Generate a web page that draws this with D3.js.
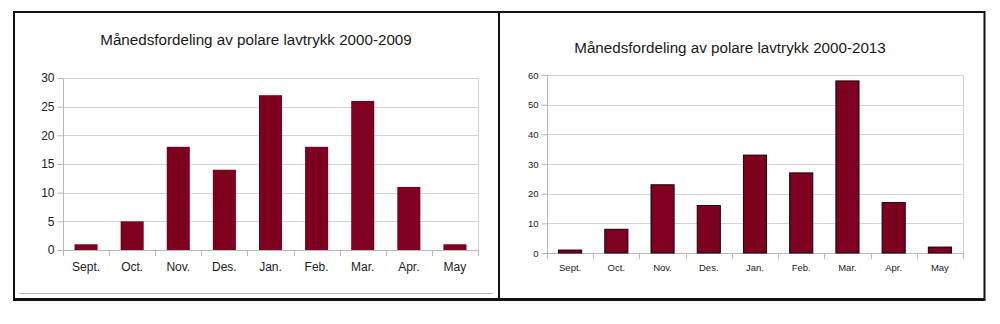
<!DOCTYPE html>
<html>
<head>
<meta charset="utf-8">
<script src="https://cdn.jsdelivr.net/npm/d3@7"></script>
<style>
  html, body { margin: 0; padding: 0; background: #fff; }
  svg { display: block; font-family: "Liberation Sans", Arial, sans-serif; }
</style>
</head>
<body>
<svg id="chart" width="1000" height="324"></svg>
<script>
// Months of the polar-low season
const months = ["Sept.", "Oct.", "Nov.", "Des.", "Jan.", "Feb.", "Mar.", "Apr.", "May"];

// Number of polar lows per month
const counts2000to2009 = [1, 5, 18, 14, 27, 18, 26, 11, 1];
const counts2000to2013 = [1, 8, 23, 16, 33, 27, 58, 17, 2];

// Y-axis ticks for each panel
const ticksLeft = [0, 5, 10, 15, 20, 25, 30];
const ticksRight = [0, 10, 20, 30, 40, 50, 60];

const titleLeft = "Månedsfordeling av polare lavtrykk 2000-2009";
const titleRight = "Månedsfordeling av polare lavtrykk 2000-2013";

const svg = d3.select("#chart");
const barFill = "#7e0021";

function drawPanel(cfg) {
  const g = svg.append("g");

  const x = d3.scaleBand().domain(months).range([cfg.x0, cfg.x1]).paddingInner(0.5).paddingOuter(0.25);
  const y = d3.scaleLinear().domain([0, d3.max(cfg.ticks)]).range([cfg.y0, cfg.y1]);

  // title
  g.append("text")
    .attr("x", cfg.titleX).attr("y", cfg.titleY)
    .attr("text-anchor", "middle")
    .attr("font-size", cfg.titleSize)
    .attr("fill", "#1a1a1a")
    .text(cfg.title);

  // horizontal grid
  g.selectAll(".grid").data(cfg.ticks).join("line")
    .attr("x1", cfg.x0).attr("x2", cfg.x1)
    .attr("y1", d => Math.round(y(d)) + 0.5).attr("y2", d => Math.round(y(d)) + 0.5)
    .attr("stroke", "#d4d4d4").attr("stroke-width", 1);

  // right frame edge of plot area
  g.append("line")
    .attr("x1", cfg.x1 + 0.5).attr("x2", cfg.x1 + 0.5)
    .attr("y1", cfg.y1).attr("y2", cfg.y0 + 6)
    .attr("stroke", "#d4d4d4");

  // y axis
  const yAxis = d3.axisLeft(y).tickValues(cfg.ticks).tickSize(6).tickPadding(3);
  const ya = g.append("g").attr("transform", `translate(${cfg.x0 + 0.5},0)`).call(yAxis);
  ya.select(".domain").attr("stroke", "#b8b8b8").attr("d", `M0,${cfg.y1}V${cfg.y0}`);
  ya.selectAll(".tick line").attr("stroke", "#b8b8b8");
  ya.selectAll(".tick text").attr("font-size", cfg.tickSize).attr("fill", "#222")
    .attr("font-family", "Liberation Sans, Arial, sans-serif");

  // x axis line and category separator ticks
  g.append("line")
    .attr("x1", cfg.x0).attr("x2", cfg.x1)
    .attr("y1", Math.round(cfg.y0) + 0.5).attr("y2", Math.round(cfg.y0) + 0.5)
    .attr("stroke", "#b8b8b8");
  const seps = d3.range(months.length + 1).map(i => cfg.x0 + i * (cfg.x1 - cfg.x0) / months.length);
  g.selectAll(".sep").data(seps).join("line")
    .attr("x1", d => Math.round(d) + 0.5).attr("x2", d => Math.round(d) + 0.5)
    .attr("y1", cfg.y0).attr("y2", cfg.y0 + 6)
    .attr("stroke", "#b8b8b8");

  // category labels
  g.selectAll(".cat").data(months).join("text")
    .attr("x", d => x(d) + x.bandwidth() / 2)
    .attr("y", cfg.labelY)
    .attr("text-anchor", "middle")
    .attr("font-size", cfg.tickSize)
    .attr("fill", "#222")
    .text(d => d);

  // bars
  g.selectAll(".bar").data(cfg.values).join("rect")
    .attr("x", (d, i) => x(months[i]))
    .attr("width", x.bandwidth())
    .attr("y", d => y(d))
    .attr("height", d => y(0) - y(d))
    .attr("fill", barFill)
    .attr("stroke", cfg.barStroke)
    .attr("stroke-width", cfg.barStroke === "none" ? 0 : 1);
}

drawPanel({
  title: titleLeft, titleX: 256, titleY: 45, titleSize: 15.2,
  x0: 63, x1: 478, y0: 250, y1: 78,
  ticks: ticksLeft, values: counts2000to2009,
  tickSize: 12, labelY: 271, barStroke: "none"
});

drawPanel({
  title: titleRight, titleX: 730, titleY: 53, titleSize: 15.2,
  x0: 547, x1: 963, y0: 253, y1: 75,
  ticks: ticksRight, values: counts2000to2013,
  tickSize: 9.5, labelY: 271, barStroke: "#1a0008"
});

// panel frames
svg.append("line").attr("x1", 19).attr("x2", 493).attr("y1", 293.5).attr("y2", 293.5)
  .attr("stroke", "#bdbdbd");
svg.append("path")
  .attr("d", "M14,12H499V299H14Z")
  .attr("fill", "none").attr("stroke", "#111").attr("stroke-width", 2);
svg.append("path")
  .attr("d", "M499,12H984.5V299H499")
  .attr("fill", "none").attr("stroke", "#111").attr("stroke-width", 2);
svg.append("line").attr("x1", 13).attr("x2", 985.5).attr("y1", 300).attr("y2", 300)
  .attr("stroke", "#111").attr("stroke-width", 2);
</script>
</body>
</html>
